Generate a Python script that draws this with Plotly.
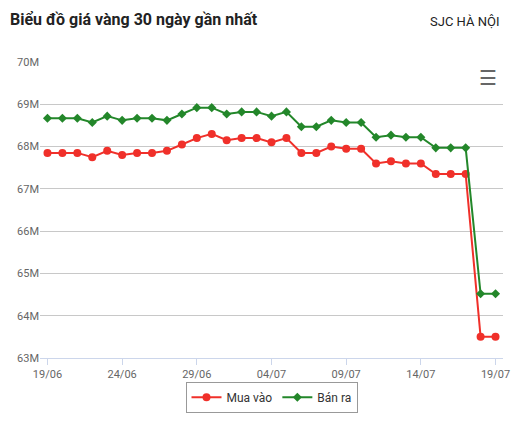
import plotly.graph_objects as go
import datetime as dt

dates = [(dt.date(2024,6,19)+dt.timedelta(days=i)).strftime("%d/%m") for i in range(31)]
mua_vao = [67.85,67.85,67.85,67.75,67.9,67.8,67.85,67.85,67.9,68.05,68.2,68.3,68.15,68.2,68.2,68.1,
           68.2,67.85,67.85,68.0,67.95,67.95,67.6,67.65,67.6,67.6,67.35,67.35,67.35,63.5,63.5]
ban_ra = [68.67,68.67,68.67,68.57,68.72,68.62,68.67,68.67,68.62,68.77,68.92,68.92,68.77,68.82,68.82,68.72,
          68.82,68.47,68.47,68.62,68.57,68.57,68.22,68.27,68.22,68.22,67.97,67.97,67.97,64.52,64.52]
tick_dates = dates[::5]

fig = go.Figure()
fig.add_trace(go.Scatter(x=dates, y=mua_vao, name="Mua vào", mode="lines+markers",
    line=dict(color="#f0302a", width=2), marker=dict(symbol="circle", size=8, color="#f0302a")))
fig.add_trace(go.Scatter(x=dates, y=ban_ra, name="Bán ra", mode="lines+markers",
    line=dict(color="#23872a", width=2), marker=dict(symbol="diamond", size=7, color="#23872a")))
fig.update_layout(
    width=504, height=407, margin=dict(l=32, r=2, t=54, b=57),
    paper_bgcolor="white", plot_bgcolor="white",
    font=dict(family="Roboto, sans-serif", color="#666", size=11),
    showlegend=True,
    legend=dict(orientation="h", x=0.5, xanchor="center", y=-0.08, yanchor="top",
                bordercolor="#999", borderwidth=1, font=dict(color="#333", size=12)),
    xaxis=dict(type="category", tickvals=tick_dates, ticktext=tick_dates, showgrid=False,
               showline=True, linecolor="#ccd6eb", ticks="outside", ticklen=6, tickcolor="#ccd6eb",
               range=[-0.5, 30.5]),
    yaxis=dict(range=[63, 70], dtick=1, ticksuffix="M", gridcolor="#c8c8c8", zeroline=False),
    annotations=[
        dict(text="<b>Biểu đồ giá vàng 30 ngày gần nhất</b>", x=0, y=1, xref="paper", yref="paper",
             xanchor="left", yanchor="top", showarrow=False, font=dict(size=16, color="#222"),
             xshift=-32, yshift=54),
        dict(text="SJC HÀ NỘI", x=1, y=1, xref="paper", yref="paper", xanchor="right", yanchor="top",
             showarrow=False, font=dict(size=13, color="#222"), xshift=-2, yshift=50),
        dict(text="☰", x=1, y=1, xref="paper", yref="paper", xanchor="right", yanchor="top",
             showarrow=False, font=dict(size=20, color="#666"), xshift=-4, yshift=-2),
    ],
)
fig.write_html("out.html")
